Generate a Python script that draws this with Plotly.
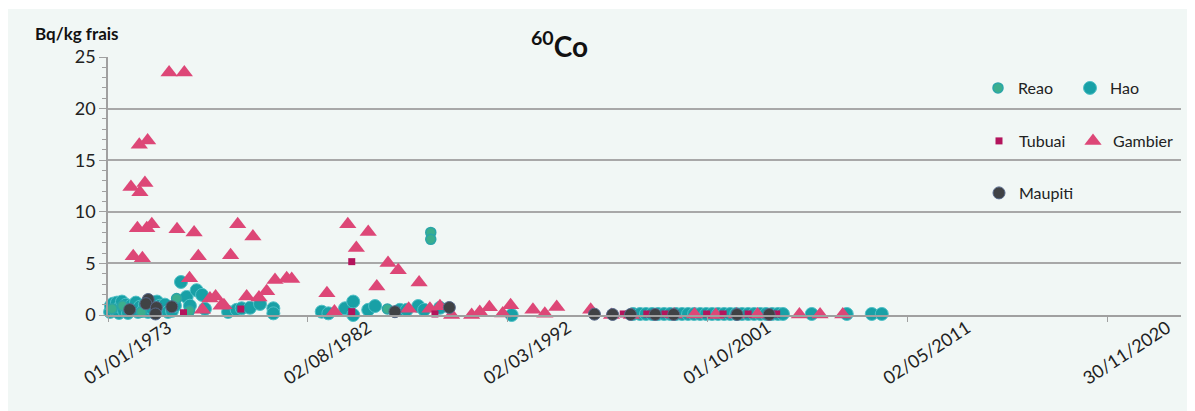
import plotly.graph_objects as go
import pandas as pd

# ---------------- data (decimal years, Bq/kg frais) ----------------
tick_labels = ["01/01/1973", "02/08/1982", "02/03/1992", "01/10/2001", "02/05/2011", "30/11/2020"]

reao_year = [1973.2, 1973.7, 1974.6, 1976.29, 1976.91, 1986.40, 1988.48, 1988.48]
reao_val = [0.6, 0.9, 0.3, 1.6, 0.4, 0.58, 8.0, 7.33]

hao_year = [1973.10, 1973.14, 1973.24, 1973.34, 1973.43, 1973.53, 1973.58, 1973.67, 1973.77, 1973.86,
            1973.96, 1974.10, 1974.25, 1974.34, 1974.44, 1974.53, 1974.68, 1974.77, 1974.92, 1975.06,
            1975.16, 1975.35, 1975.49, 1975.59, 1975.73, 1975.88, 1976.07, 1976.21, 1976.50, 1976.77,
            1976.93, 1977.25, 1977.51, 1977.65, 1978.76, 1979.17, 1979.41, 1979.81, 1980.29, 1980.93,
            1980.93, 1983.25, 1983.57, 1984.37, 1984.76, 1984.76, 1985.48, 1985.81, 1987.00, 1987.33,
            1987.88, 1988.16, 1988.92, 1992.36,
            1998.18, 1998.52, 1998.80, 1999.09, 1999.38, 1999.67, 1999.96, 2000.24, 2000.53, 2000.82,
            2001.11, 2001.40, 2001.69, 2001.97, 2002.26, 2002.55, 2002.84, 2003.13, 2003.41, 2003.70,
            2003.99, 2004.28, 2004.56, 2004.85, 2005.13, 2005.37,
            2006.75, 2008.43, 2009.63, 2010.11]
hao_val = [0.3, 0.9, 1.1, 0.5, 1.2, 0.2, 0.8, 1.3, 0.4, 1.0,
           0.2, 0.9, 0.5, 1.2, 0.3, 0.8, 0.4, 1.0, 0.3, 0.7,
           1.2, 1.3, 0.9, 0.5, 1.0, 0.3, 0.4, 0.9, 3.2, 1.75,
           0.9, 2.4, 1.95, 0.6, 0.3, 0.5, 0.65, 0.7, 1.07, 0.65,
           0.16, 0.32, 0.16, 0.65, 1.3, 0.0, 0.5, 0.87, 0.5, 0.5,
           0.87, 0.5, 0.7, 0.0,
           0.1, 0.1, 0.1, 0.1, 0.1, 0.1, 0.1, 0.1, 0.1, 0.1,
           0.1, 0.1, 0.1, 0.1, 0.1, 0.1, 0.1, 0.1, 0.1, 0.1,
           0.1, 0.1, 0.1, 0.1, 0.1, 0.1,
           0.1, 0.1, 0.1, 0.1]

tubuai_year = [1976.62, 1979.37, 1984.69, 1984.69, 1988.68, 1997.71, 1998.84, 1999.71,
               2001.71, 2002.50, 2003.70, 2005.07]
tubuai_val = [0.22, 0.58, 5.17, 0.32, 0.1, 0.1, 0.1, 0.1, 0.1, 0.1, 0.1, 0.1]

gambier_year = [1975.93, 1976.66, 1974.50, 1974.90, 1974.10, 1974.77, 1974.53, 1974.41, 1974.86, 1975.10,
                1976.31, 1977.13, 1979.22, 1979.95, 1974.21, 1974.65, 1977.33, 1978.88, 1976.91, 1977.89,
                1978.16, 1978.42, 1977.53, 1978.56, 1979.65, 1980.24, 1980.61, 1981.01, 1981.57, 1981.81,
                1983.50, 1983.86, 1984.50, 1984.91, 1985.48, 1985.89, 1986.43, 1986.92, 1987.92, 1987.42,
                1988.44, 1988.92, 1989.48, 1990.44, 1990.83, 1991.29, 1991.93, 1992.31, 1993.38, 1993.95,
                1994.52, 1996.15, 1997.15, 1998.10, 2000.15, 2001.13, 2002.15, 2003.14, 2004.15, 2006.16,
                2007.15, 2008.24]
gambier_val = [23.5, 23.5, 16.5, 16.9, 12.4, 12.8, 11.9, 8.4, 8.4, 8.8,
               8.3, 8.0, 8.8, 7.6, 5.7, 5.5, 5.7, 5.8, 3.55, 1.6,
               1.8, 0.9, 0.5, 0.95, 1.8, 1.7, 2.3, 3.4, 3.55, 3.5,
               2.1, 0.35, 8.8, 6.5, 8.05, 2.75, 5.05, 4.33, 3.15, 0.6,
               0.6, 0.85, 0.0, 0.0, 0.3, 0.75, 0.15, 0.95, 0.5, 0.12,
               0.78, 0.5, 0.0, 0.0, 0.05, 0.05, 0.0, 0.05, 0.05, 0.05,
               0.05, 0.05]

maupiti_year = [1974.04, 1974.93, 1974.82, 1975.32, 1975.28, 1976.06, 1986.76, 1989.37, 1996.33,
                1997.20, 1998.06, 1999.24, 2000.13, 2003.17, 2004.71]
maupiti_val = [0.52, 1.5, 1.1, 0.72, 0.1, 0.8, 0.32, 0.73, 0.08,
               0.05, 0.05, 0.05, 0.05, 0.05, 0.05]


def to_dates(years):
    base = pd.Timestamp("1973-01-01")
    return [base + pd.Timedelta(days=(y - 1973) * 365.25) for y in years]


tick_vals = list(pd.to_datetime(tick_labels, format="%d/%m/%Y"))

FONT = "Lato"
fig = go.Figure()

fig.add_trace(go.Scatter(x=to_dates(hao_year), y=hao_val, mode="markers", name="Hao",
                         legend="legend2", cliponaxis=False,
                         marker=dict(symbol="circle", size=13, color="#18a0a6",
                                     line=dict(width=1, color="#4fc0c6"))))
fig.add_trace(go.Scatter(x=to_dates(reao_year), y=reao_val, mode="markers", name="Reao",
                         legend="legend", cliponaxis=False,
                         marker=dict(symbol="circle", size=10, color="#3bae8e",
                                     line=dict(width=1.5, color="#2aa5a8"))))
fig.add_trace(go.Scatter(x=to_dates(gambier_year), y=gambier_val, mode="markers", name="Gambier",
                         legend="legend4", cliponaxis=False,
                         marker=dict(symbol="triangle-up", size=15, color="#dd4777",
                                     line=dict(width=0))))
fig.add_trace(go.Scatter(x=to_dates(tubuai_year), y=tubuai_val, mode="markers", name="Tubuai",
                         legend="legend3", cliponaxis=False,
                         marker=dict(symbol="square", size=7, color="#b3145c",
                                     line=dict(width=0))))
fig.add_trace(go.Scatter(x=to_dates(maupiti_year), y=maupiti_val, mode="markers", name="Maupiti",
                         legend="legend5", cliponaxis=False,
                         marker=dict(symbol="circle", size=12, color="#404245",
                                     line=dict(width=1, color="#56688a"))))

BG = "#f1f7f5"
# page offset of the figure (browser body margin)
OFF = 8
L0, PW, B0, PH = 108, 1073, 315, 258


def lg(px_left, py_mid):
    return dict(orientation="v", xanchor="left", yanchor="middle",
                x=(px_left - L0) / PW, y=(B0 - py_mid) / PH,
                bgcolor="rgba(0,0,0,0)", font=dict(family=FONT, size=16, color="#222222"),
                itemclick=False, itemdoubleclick=False)


fig.update_layout(
    width=1195 - OFF, height=411 - OFF, autosize=False,
    margin=dict(l=108 - OFF, r=14, t=57 - OFF, b=96, autoexpand=False),
    paper_bgcolor="white", plot_bgcolor="rgba(0,0,0,0)",
    font=dict(family=FONT, color="#222222"),
    showlegend=True,
    legend=lg(978, 88),
    legend2=lg(1070, 88),
    legend3=lg(979, 141),
    legend4=lg(1073, 141),
    legend5=lg(979, 193),
    shapes=[dict(type="rect", xref="paper", yref="paper", x0=-0.0951, x1=1.02, y0=-0.40, y1=1.186,
                 fillcolor=BG, line=dict(width=0), layer="below")],
    annotations=[
        dict(text="<b>Bq/kg frais</b>", xref="paper", yref="paper", x=-0.070, y=1.093,
             xanchor="left", yanchor="middle", showarrow=False,
             font=dict(family=FONT, size=17, color="#111111")),
        dict(text="<b><sup>60</sup>Co</b>", xref="paper", yref="paper", x=0.421, y=1.05,
             xanchor="center", yanchor="middle", showarrow=False,
             font=dict(family=FONT, size=28, color="#111111")),
    ],
    xaxis=dict(type="date", range=[pd.Timestamp("1973-01-01"), pd.Timestamp("2024-06-18")],
               tickmode="array", tickvals=tick_vals, ticktext=tick_labels, tickangle=-33,
               ticks="outside", ticklen=5, tickcolor="#a0a0a0", tickwidth=1, automargin=False,
               showline=True, linecolor="#a0a0a0", linewidth=1.5, showgrid=False, zeroline=False,
               ticklabelshift=60, ticklabelstandoff=-11,
               tickfont=dict(family=FONT, size=18, color="#222222")),
    yaxis=dict(range=[0, 25], tickmode="linear", tick0=0, dtick=5, automargin=False,
               showgrid=True, gridcolor="#a8a8a8", gridwidth=1.5,
               showline=True, linecolor="#a0a0a0", linewidth=1.5, zeroline=False,
               ticks="outside", ticklen=7, tickcolor="#a0a0a0",
               minor=dict(dtick=1, ticks="outside", ticklen=4, tickcolor="#a0a0a0", showgrid=False),
               tickfont=dict(family=FONT, size=18, color="#222222")),
)

fig.write_html("out.html")
